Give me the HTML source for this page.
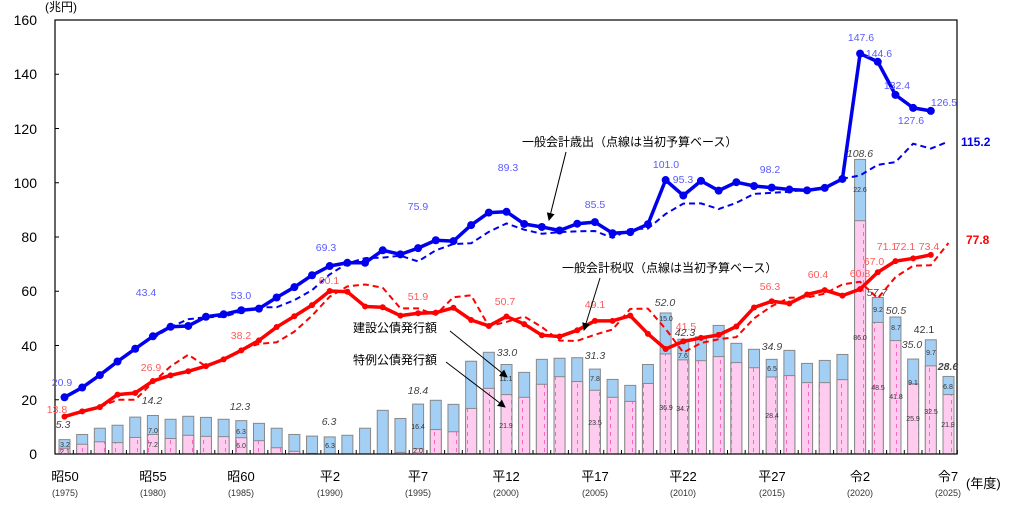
<!DOCTYPE html>
<html><head><meta charset="utf-8">
<style>
body{margin:0;background:#fff;}
svg{display:block;font-family:"Liberation Sans","Noto Sans CJK JP",sans-serif;}
.bl{fill:#5a5aff;font-size:10.5px;text-anchor:middle}
.rd{fill:#ff5a5a;font-size:10.5px;text-anchor:middle}
.tt{fill:#444;font-size:10.5px;font-style:italic;text-anchor:middle}
.sm{fill:#333;font-size:7px;text-anchor:middle}
.ax{fill:#000;font-size:13px;text-anchor:middle}
.yr{fill:#333;font-size:9px;text-anchor:middle}
.yl{fill:#000;font-size:14px;text-anchor:end}
.an{fill:#000;font-size:12px}
</style></head>
<body>
<svg id="c" width="1010" height="506" viewBox="0 0 1010 506" xmlns="http://www.w3.org/2000/svg">
<defs>
<pattern id="pk" width="11" height="8" patternUnits="userSpaceOnUse">
<rect width="11" height="8" fill="#ffccf0"/>
<line x1="5.5" y1="0" x2="5.5" y2="4" stroke="#ff66c4" stroke-width="1"/>
</pattern>
<marker id="ar" markerWidth="8" markerHeight="8" refX="7" refY="4" orient="auto"><path d="M0,0 L8,4 L0,8 z" fill="#000"/></marker>
</defs>
<g id="bars"></g>
<rect x="55" y="20" width="902" height="434" fill="none" stroke="#000" stroke-width="1.2"/>
<g id="ticks" stroke="#000" stroke-width="1"></g>
<g id="lines"></g>
<text x="45" y="11" style="font-size:12px">(兆円)</text>
<text class="yl" x="37" y="459">0</text>
<text class="yl" x="37" y="405">20</text>
<text class="yl" x="37" y="351">40</text>
<text class="yl" x="37" y="296">60</text>
<text class="yl" x="37" y="242">80</text>
<text class="yl" x="37" y="188">100</text>
<text class="yl" x="37" y="134">120</text>
<text class="yl" x="37" y="79">140</text>
<text class="yl" x="37" y="25">160</text>
<text class="ax" x="65" y="481">昭50</text><text class="yr" x="65" y="496">(1975)</text>
<text class="ax" x="153" y="481">昭55</text><text class="yr" x="153" y="496">(1980)</text>
<text class="ax" x="241" y="481">昭60</text><text class="yr" x="241" y="496">(1985)</text>
<text class="ax" x="330" y="481">平2</text><text class="yr" x="330" y="496">(1990)</text>
<text class="ax" x="418" y="481">平7</text><text class="yr" x="418" y="496">(1995)</text>
<text class="ax" x="506" y="481">平12</text><text class="yr" x="506" y="496">(2000)</text>
<text class="ax" x="595" y="481">平17</text><text class="yr" x="595" y="496">(2005)</text>
<text class="ax" x="683" y="481">平22</text><text class="yr" x="683" y="496">(2010)</text>
<text class="ax" x="772" y="481">平27</text><text class="yr" x="772" y="496">(2015)</text>
<text class="ax" x="860" y="481">令2</text><text class="yr" x="860" y="496">(2020)</text>
<text class="ax" x="948" y="481">令7</text><text class="yr" x="948" y="496">(2025)</text>
<text x="966" y="488" style="font-size:13px">(年度)</text>

<text class="bl" x="62" y="386">20.9</text><text class="bl" x="146" y="296">43.4</text><text class="bl" x="241" y="299">53.0</text>
<text class="bl" x="326" y="251">69.3</text><text class="bl" x="418" y="210">75.9</text><text class="bl" x="508" y="171">89.3</text>
<text class="bl" x="595" y="208">85.5</text><text class="bl" x="666" y="168">101.0</text><text class="bl" x="683" y="183">95.3</text>
<text class="bl" x="770" y="173">98.2</text><text class="bl" x="861" y="41">147.6</text><text class="bl" x="879" y="57">144.6</text>
<text class="bl" x="897" y="89">132.4</text><text class="bl" x="944" y="106">126.5</text><text class="bl" x="911" y="124">127.6</text>
<text x="961" y="146" style="fill:#0000ee;font-size:12px;font-weight:bold">115.2</text>

<text class="rd" x="57" y="413">13.8</text><text class="rd" x="151" y="371">26.9</text><text class="rd" x="241" y="339">38.2</text>
<text class="rd" x="329" y="284">60.1</text><text class="rd" x="418" y="300">51.9</text><text class="rd" x="505" y="305">50.7</text>
<text class="rd" x="595" y="308">49.1</text><text class="rd" x="686" y="330">41.5</text><text class="rd" x="770" y="290">56.3</text>
<text class="rd" x="818" y="278">60.4</text><text class="rd" x="860" y="277">60.8</text><text class="rd" x="874" y="265">67.0</text>
<text class="rd" x="887" y="250">71.1</text><text class="rd" x="905" y="250">72.1</text><text class="rd" x="929" y="250">73.4</text>
<text x="966" y="244" style="fill:#ff0000;font-size:12px;font-weight:bold">77.8</text>

<text class="tt" x="63" y="428">5.3</text><text class="tt" x="152" y="404">14.2</text><text class="tt" x="240" y="410">12.3</text>
<text class="tt" x="329" y="425">6.3</text><text class="tt" x="418" y="394">18.4</text><text class="tt" x="507" y="356">33.0</text>
<text class="tt" x="595" y="359">31.3</text><text class="tt" x="665" y="306">52.0</text><text class="tt" x="685" y="336">42.3</text>
<text class="tt" x="772" y="350">34.9</text><text class="tt" x="877" y="296">57.7</text><text class="tt" x="896" y="314">50.5</text>
<text class="tt" x="912" y="348">35.0</text><text x="924" y="333" style="fill:#333;font-size:10.5px;text-anchor:middle">42.1</text>
<text class="tt" x="948" y="370" style="font-weight:bold">28.6</text>
<text class="tt" x="860" y="157">108.6</text>

<text class="sm" x="65" y="447">3.2</text><text class="sm" x="65" y="454">2.1</text>
<text class="sm" x="153" y="433">7.0</text><text class="sm" x="153" y="447">7.2</text>
<text class="sm" x="241" y="434">6.3</text><text class="sm" x="241" y="448">6.0</text>
<text class="sm" x="330" y="448">6.3</text>
<text class="sm" x="418" y="429">16.4</text><text class="sm" x="418" y="453">2.0</text>
<text class="sm" x="506" y="381">11.1</text><text class="sm" x="506" y="428">21.9</text>
<text class="sm" x="595" y="381">7.8</text><text class="sm" x="595" y="425">23.5</text>
<text class="sm" x="666" y="321">15.0</text><text class="sm" x="666" y="410">36.9</text>
<text class="sm" x="683" y="358">7.6</text><text class="sm" x="683" y="411">34.7</text>
<text class="sm" x="772" y="371">6.5</text><text class="sm" x="772" y="418">28.4</text>
<text class="sm" x="860" y="192">22.6</text><text class="sm" x="860" y="340">86.0</text>
<text class="sm" x="878" y="312">9.2</text><text class="sm" x="878" y="390">48.5</text>
<text class="sm" x="896" y="330">8.7</text><text class="sm" x="896" y="399">41.8</text>
<text class="sm" x="913" y="385">9.1</text><text class="sm" x="913" y="421">25.9</text>
<text class="sm" x="931" y="355">9.7</text><text class="sm" x="931" y="414">32.5</text>
<text class="sm" x="948" y="389">6.8</text><text class="sm" x="948" y="427">21.9</text>

<text class="an" x="522" y="146">一般会計歳出（点線は当初予算ベース）</text>
<line x1="566" y1="152" x2="549" y2="220" stroke="#000" stroke-width="1" marker-end="url(#ar)"/>
<text class="an" x="562" y="272">一般会計税収（点線は当初予算ベース）</text>
<line x1="600" y1="278" x2="584" y2="330" stroke="#000" stroke-width="1" marker-end="url(#ar)"/>
<text class="an" x="353" y="332">建設公債発行額</text>
<line x1="450" y1="331" x2="507" y2="377" stroke="#000" stroke-width="1" marker-end="url(#ar)"/>
<text class="an" x="353" y="364">特例公債発行額</text>
<line x1="446" y1="362" x2="505" y2="407" stroke="#000" stroke-width="1" marker-end="url(#ar)"/>
</svg>
<script>
var NS="http://www.w3.org/2000/svg";
function X(y){return 64.5+(y-1975)*17.68;}
function Y(v){return 454-v*2.7125;}
function el(p,t,a){var e=document.createElementNS(NS,t);for(var k in a)e.setAttribute(k,a[k]);p.appendChild(e);return e;}
var tot=[5.3,7.2,9.5,10.6,13.6,14.2,12.8,13.9,13.5,12.8,12.3,11.3,9.5,7.2,6.6,6.3,6.9,9.5,16.1,13.1,18.4,19.8,18.3,34.2,37.5,33.0,30.1,34.9,35.3,35.5,31.3,27.5,25.3,33.0,52.0,42.3,43.2,47.4,40.8,38.6,34.9,38.2,33.4,34.5,36.7,108.6,57.7,50.5,35.0,42.1,28.6];
var sp=[2.1,3.6,4.5,4.2,6.1,7.2,5.7,6.9,6.5,6.4,6.0,4.9,2.3,1.0,0.2,0,0,0,0,0.6,2.0,9.0,8.2,16.8,24.2,21.9,20.9,25.7,28.5,26.7,23.5,20.9,19.4,26.0,36.9,34.7,34.4,35.9,33.7,31.8,28.4,28.9,26.3,26.3,27.4,86.0,48.5,41.8,25.9,32.5,21.9];
var exp=[20.9,24.5,29.1,34.1,38.8,43.4,46.9,47.2,50.6,51.5,53.0,53.6,57.7,61.5,65.9,69.3,70.5,70.5,75.1,73.6,75.9,78.8,78.5,84.4,89.0,89.3,84.8,83.7,82.4,84.9,85.5,81.4,81.8,84.7,101.0,95.3,100.7,97.1,100.2,98.8,98.2,97.5,97.2,98.1,101.4,147.6,144.6,132.4,127.6,126.5];
var tax=[13.8,15.7,17.3,21.9,22.5,26.9,29.0,30.5,32.4,34.9,38.2,41.9,46.8,50.8,54.9,60.1,59.8,54.4,54.1,51.0,51.9,52.1,53.9,49.4,47.2,50.7,47.9,43.8,43.3,45.6,49.1,49.1,51.0,44.3,38.7,41.5,42.8,43.9,47.0,54.0,56.3,55.5,58.8,60.4,58.4,60.8,67.0,71.1,72.1,73.4];
var expB={1980:42.6,1981:46.8,1982:49.7,1983:50.4,1984:50.6,1985:52.5,1986:54.1,1987:54.1,1988:56.7,1989:60.4,1990:66.2,1991:70.3,1992:72.2,1993:72.4,1994:73.1,1995:71.0,1996:75.1,1997:77.4,1998:77.7,1999:81.9,2000:85.0,2001:82.7,2002:81.2,2003:81.8,2004:82.1,2005:82.2,2006:79.7,2007:82.9,2008:83.1,2009:88.5,2010:92.3,2011:92.4,2012:90.3,2013:92.6,2014:95.9,2015:96.3,2016:96.7,2017:97.5,2018:97.7,2019:101.5,2020:102.7,2021:106.6,2022:107.6,2023:114.4,2024:112.6,2025:115.2};
var taxB={1977:17.3,1978:20.0,1979:20.0,1980:26.4,1981:32.3,1982:36.6,1983:32.3,1984:34.6,1985:38.6,1986:40.6,1987:41.2,1988:45.1,1989:51.0,1990:58.0,1991:61.8,1992:62.5,1993:61.3,1994:53.7,1995:53.7,1996:51.3,1997:57.8,1998:58.5,1999:47.1,2000:48.7,2001:50.7,2002:46.8,2003:41.8,2004:41.7,2005:44.0,2006:45.9,2007:53.5,2008:53.6,2009:46.1,2010:37.4,2011:40.9,2012:42.3,2013:43.1,2014:50.0,2015:54.5,2016:57.6,2017:57.7,2018:59.1,2019:62.5,2020:63.5,2021:57.4,2022:65.2,2023:69.4,2024:69.6,2025:77.8};
var gb=document.getElementById("bars"),gt=document.getElementById("ticks"),gl=document.getElementById("lines");
for(var i=0;i<tot.length;i++){var x=X(1975+i)-5.5;
 el(gb,"rect",{x:x,y:Y(tot[i]),width:11,height:tot[i]*2.7125,fill:"#a3cff5",stroke:"#888","stroke-width":1});
 if(sp[i]>0)el(gb,"rect",{x:x,y:Y(sp[i]),width:11,height:sp[i]*2.7125,fill:"url(#pk)",stroke:"#888","stroke-width":1});
 el(gt,"line",{x1:X(1975+i)+8.84,y1:454,x2:X(1975+i)+8.84,y2:450});}
for(var v=20;v<160;v+=20)el(gt,"line",{x1:55,y1:Y(v),x2:59,y2:Y(v)});
function pl(d,c,dash,w){var s="";for(var k in d)s+=X(+k)+","+Y(d[k])+" ";el(gl,"polyline",{points:s,fill:"none",stroke:c,"stroke-width":w,"stroke-dasharray":dash,"stroke-linejoin":"round"});}
function arr(a){var o={};a.forEach(function(v,i){o[1975+i]=v;});return o;}
pl(expB,"#0000ee","6,4",2);pl(taxB,"#ff0000","6,4",2);
pl(arr(exp),"#0000ee","",3.5);pl(arr(tax),"#ff0000","",3.5);
exp.forEach(function(v,i){el(gl,"circle",{cx:X(1975+i),cy:Y(v),r:4,fill:"#0000ee"});});
tax.forEach(function(v,i){el(gl,"circle",{cx:X(1975+i),cy:Y(v),r:3,fill:"#ff0000"});});
</script>
</body></html>
